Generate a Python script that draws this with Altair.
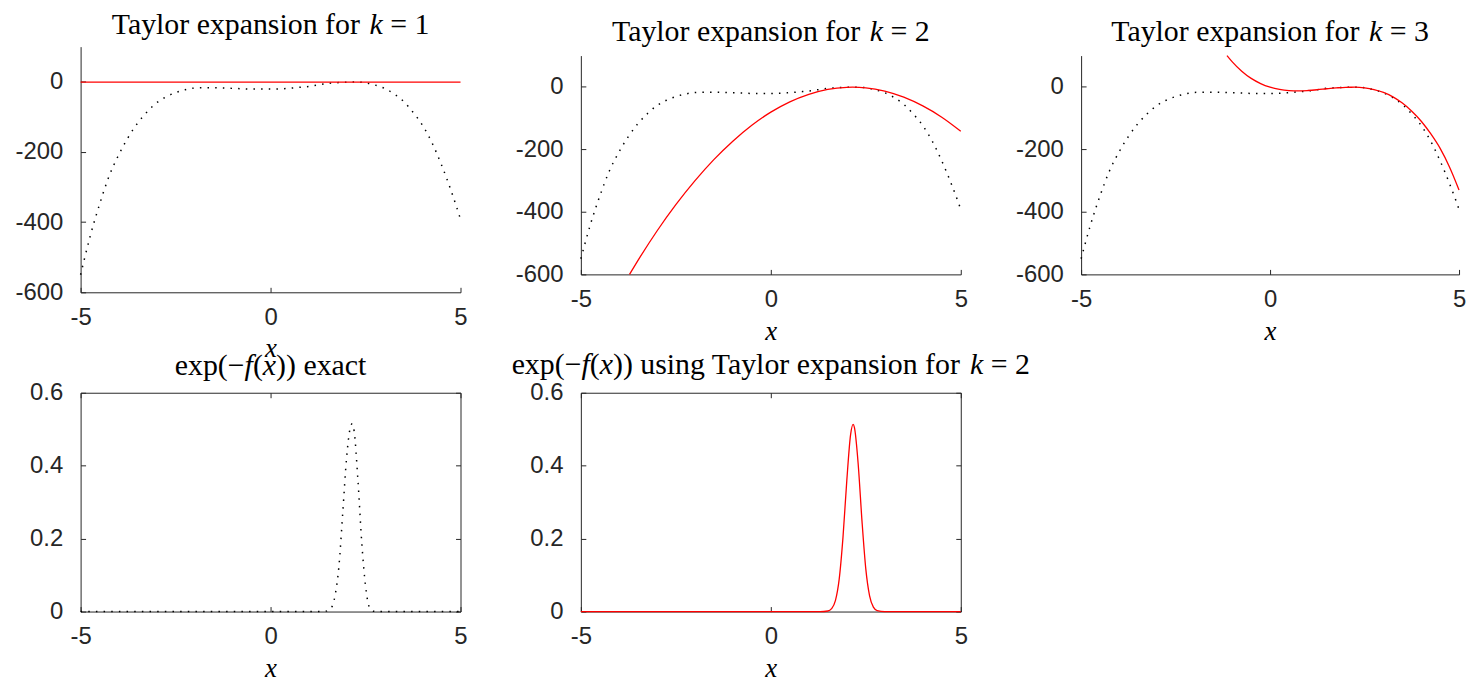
import altair as alt
import pandas as pd

# ---------------- data ----------------
X_TICKS = [-5, 0, 5]
Y_TICKS_TOP = [-600, -400, -200, 0]
Y_TICKS_BOT = [0, 0.2, 0.4, 0.6]

# dotted curve (log density) shown in the three top panels
X_F = [-5, -4.9, -4.75, -4.5, -4.25, -4, -3.75, -3.5, -3.25, -3, -2.75, -2.5, -2.25, -2,
       -1.75, -1.5, -1.25, -1, -0.75, -0.5, -0.25, 0, 0.25, 0.5, 0.75, 1, 1.25, 1.5, 1.75,
       2, 2.25, 2.5, 2.75, 3, 3.25, 3.5, 3.75, 4, 4.25, 4.5, 4.75, 4.9, 5]
Y_F = [-550, -505, -441, -349, -269, -209, -159, -118, -86, -60, -43, -31, -23, -18,
       -17, -17, -18, -19, -20, -21, -21, -21, -20.5, -18.5, -16, -13.5, -9, -4.6, -2.8,
       -1.2, -1, -3, -9.5, -19, -34.5, -56, -87, -124, -174, -237, -310, -358, -392]

# Taylor expansion k = 1
X_T1 = [-5, 5]
Y_T1 = [-1, -1]

# Taylor expansion k = 2
X_T2 = [-3.72, -3.5, -3, -2.5, -2, -1.5, -1, -0.5, 0, 0.5, 1, 1.5, 2, 2.15, 2.5, 3, 3.5, 4, 4.5, 5]
Y_T2 = [-600, -556, -462, -377, -301, -233, -174, -123, -81, -48, -24, -8, -1.4, -1, -3,
        -13.5, -33, -61, -97, -142]

# Taylor expansion k = 3
X_T3 = [-1.14, -1, -0.75, -0.5, -0.25, 0, 0.25, 0.5, 0.75, 1, 1.25, 1.5, 1.75, 2, 2.25,
        2.5, 2.75, 3, 3.25, 3.5, 3.75, 4, 4.25, 4.5, 4.75, 5]
Y_T3 = [100, 80, 50, 27, 10.5, -1, -8.3, -12, -13, -11.7, -9.2, -6.1, -3.3, -1.4, -1.2,
        -3.5, -9, -18, -32, -52, -78, -110, -150, -197, -257, -330]

# exp(-f(x)) exact
X_E = [-5, 1.3, 1.5, 1.6, 1.7, 1.8, 1.9, 2.0, 2.1, 2.15, 2.2, 2.3, 2.4, 2.5, 2.6, 2.7, 2.9, 5]
Y_E = [0, 0, 0.002, 0.01, 0.045, 0.125, 0.27, 0.42, 0.505, 0.515, 0.495, 0.36, 0.19, 0.07,
       0.012, 0.001, 0, 0]

# exp(-f(x)) with Taylor expansion k = 2
X_G = [-5, 1.3, 1.5, 1.6, 1.7, 1.8, 1.9, 2.0, 2.1, 2.165, 2.2, 2.3, 2.4, 2.5, 2.6, 2.7, 2.8, 3.0, 5]
Y_G = [0, 0, 0.0015, 0.008, 0.03, 0.089, 0.204, 0.359, 0.485, 0.513, 0.505, 0.404, 0.248,
       0.117, 0.043, 0.012, 0.0026, 0, 0]

NB = "\u00a0"
# title pieces: (text, italic?)
TITLES = [
    [("Taylor expansion for" + NB, False), ("k", True), (NB + "=" + NB + "1", False)],
    [("Taylor expansion for" + NB, False), ("k", True), (NB + "=" + NB + "2", False)],
    [("Taylor expansion for" + NB, False), ("k", True), (NB + "=" + NB + "3", False)],
    [("exp(\u2212", False), ("f", True), ("(", False), ("x", True), (")) exact", False)],
    [("exp(\u2212", False), ("f", True), ("(", False), ("x", True),
     (")) using Taylor expansion for" + NB, False), ("k", True), (NB + "=" + NB + "2", False)],
]

# ---------------- styling ----------------
AX = "#262626"
SANS = "Liberation Sans"
SERIF = "Liberation Serif"
LBL = 24
TFS = 30

# Times-compatible advance widths (em) used to place the title pieces
W_REG = {"T": .611, "a": .444, "y": .5, "l": .278, "o": .5, "r": .333, NB: .25, " ": .25,
         "e": .444, "x": .5, "p": .5, "n": .5, "s": .389, "i": .278, "f": .333, "=": .564,
         "1": .5, "2": .5, "3": .5, "(": .333, ")": .333, "\u2212": .564, "c": .444,
         "t": .278, "u": .5, "g": .5, "k": .5}
W_IT = {"k": .444, "f": .278, "x": .444}


def seg_width(text, italic):
    tab = W_IT if italic else W_REG
    return sum(tab.get(ch, .5) for ch in text) * TFS


def frame(xs, ys):
    return pd.DataFrame({"x": xs, "y": ys})


def main_axes(yticks):
    ax = alt.Axis(orient="bottom", values=X_TICKS, labelExpr="'' + datum.value",
                  ticks=False, tickSize=0, domain=True, domainColor=AX, domainWidth=1,
                  labelFont=SANS, labelFontSize=LBL, labelColor=AX, labelPadding=13,
                  labelFlush=False, labelOverlap=False, grid=False,
                  title="x", titleFont=SERIF, titleFontSize=27, titleFontStyle="italic",
                  titleFontWeight="normal", titleColor="black", titleY=65,
                  titleBaseline="alphabetic")
    ay = alt.Axis(orient="left", values=yticks, labelExpr="'' + datum.value",
                  ticks=False, tickSize=0, domain=True, domainColor=AX, domainWidth=1,
                  labelFont=SANS, labelFontSize=LBL, labelColor=AX, labelPadding=18,
                  labelFlush=False, labelOverlap=False, grid=False, title=None)
    return ax, ay


def inner_ticks(yticks, w, h):
    ax = alt.Axis(orient="top", offset=-h, values=X_TICKS, labels=False, ticks=True,
                  tickSize=5, tickColor=AX, tickWidth=1, domain=False, grid=False, title=None)
    ay = alt.Axis(orient="right", offset=-w, values=yticks, labels=False, ticks=True,
                  tickSize=5, tickColor=AX, tickWidth=1, domain=False, grid=False, title=None)
    return ax, ay


def box_axes(yticks, w, h):
    ax = alt.Axis(orient="bottom", offset=-h, values=X_TICKS, labels=False, ticks=True,
                  tickSize=5, tickColor=AX, tickWidth=1, domain=True, domainColor=AX,
                  domainWidth=1, grid=False, title=None)
    ay = alt.Axis(orient="left", offset=-w, values=yticks, labels=False, ticks=True,
                  tickSize=5, tickColor=AX, tickWidth=1, domain=True, domainColor=AX,
                  domainWidth=1, grid=False, title=None)
    return ax, ay


def line(data, style, xs, ys, ax, ay):
    if style == "dot":
        mk = alt.Chart(data).mark_line(color="black", strokeWidth=1.5, strokeDash=[1.5, 6.2],
                                       interpolate="monotone")
    elif style == "red":
        mk = alt.Chart(data).mark_line(color="#ff0000", strokeWidth=1.3, interpolate="monotone")
    else:
        mk = alt.Chart(data).mark_line(strokeOpacity=0)
    return mk.encode(x=alt.X("x:Q", scale=xs, axis=ax), y=alt.Y("y:Q", scale=ys, axis=ay))


def title_layers(pieces, w, ybase):
    total = sum(seg_width(t, it) for t, it in pieces)
    x0 = w / 2 - total / 2
    out = []
    for t, it in pieces:
        shown = t.strip(NB)
        lead = seg_width(t[: len(t) - len(t.lstrip(NB))], it)
        out.append(
            alt.Chart(pd.DataFrame({"t": [shown]})).mark_text(
                font=SERIF, fontSize=TFS, fontStyle="italic" if it else "normal",
                fontWeight="normal", color="black", align="left", baseline="alphabetic"
            ).encode(x=alt.value(x0 + lead), y=alt.value(ybase), text="t:N")
        )
        x0 += seg_width(t, it)
    return out


def panel(first, second, title, w, h, ydom, yticks, box, yrange=None, ybase=-13):
    xs = alt.Scale(domain=[-5, 5], nice=False, zero=False)
    if yrange is None:
        ys = alt.Scale(domain=ydom, nice=False, zero=False)
    else:
        ys = alt.Scale(domain=ydom, nice=False, zero=False, range=yrange)
    ax1, ay1 = main_axes(yticks)
    ax2, ay2 = inner_ticks(yticks, w, h)
    layers = [line(first[0], first[1], xs, ys, ax1, ay1),
              line(second[0], second[1], xs, ys, ax2, ay2)]
    if box:
        ax3, ay3 = box_axes(yticks, w, h)
        layers.append(line(first[0], "none", xs, ys, ax3, ay3))
    layers += title_layers(title, w, ybase)
    return alt.layer(*layers).resolve_axis(x="independent", y="independent").properties(
        width=w, height=h)


f_df = frame(X_F, Y_F)
p1 = panel((f_df, "dot"), (frame(X_T1, Y_T1), "red"), TITLES[0], 382, 247,
           [-600, 100], Y_TICKS_TOP, False, ybase=-13)
p2 = panel((f_df, "dot"), (frame(X_T2, Y_T2), "red"), TITLES[1], 382, 229,
           [-600, 100], Y_TICKS_TOP, False, yrange=[229, 9], ybase=-6)
p3 = panel((f_df, "dot"), (frame(X_T3, Y_T3), "red"), TITLES[2], 380, 229,
           [-600, 100], Y_TICKS_TOP, False, yrange=[229, 9], ybase=-6)
e_df = frame(X_E, Y_E)
g_df = frame(X_G, Y_G)
p4 = panel((e_df, "dot"), (e_df, "none"), TITLES[3], 382, 220, [0, 0.6], Y_TICKS_BOT, True,
           ybase=-18)
p5 = panel((g_df, "red"), (g_df, "none"), TITLES[4], 382, 220, [0, 0.6], Y_TICKS_BOT, True,
           ybase=-19)

chart = alt.concat(p1, p2, p3, p4, p5, columns=3, spacing={"row": 101, "column": 121},
                   bounds="flush").properties(
    padding={"left": 6, "top": 0, "right": 0, "bottom": 0}
).configure_view(stroke=None)

chart.save("out.html", embed_options={"renderer": "svg", "actions": False})
